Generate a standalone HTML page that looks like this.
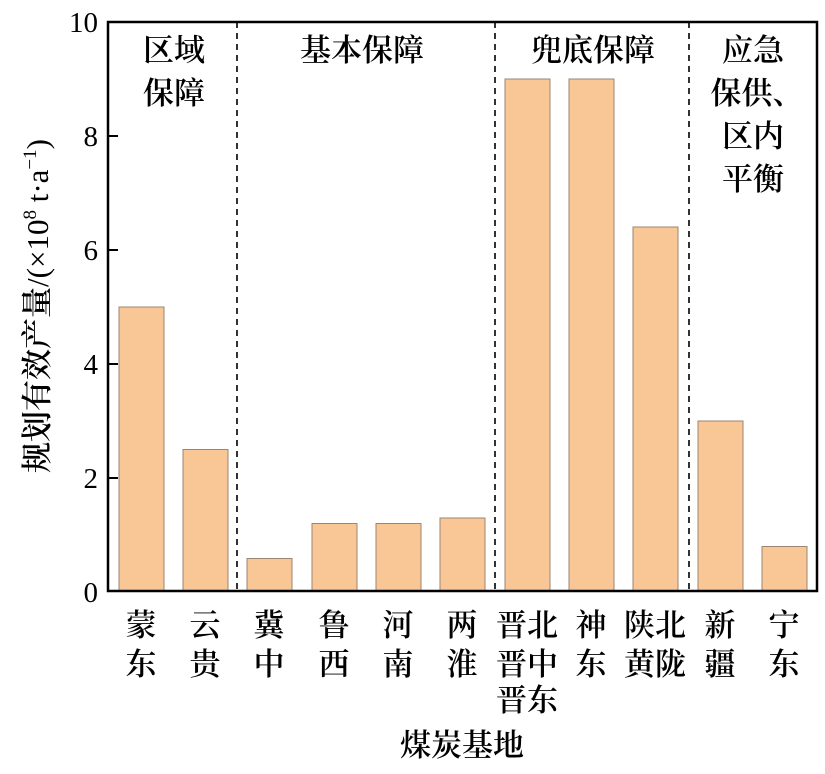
<!DOCTYPE html>
<html><head><meta charset="utf-8"><style>
body{margin:0;background:#fff}
svg text{font-family:"Liberation Serif","Noto Serif CJK SC",serif;fill:#000}
.c{font-weight:600}
.n{font-weight:400}
</style></head><body>
<svg width="825" height="769" viewBox="0 0 825 769" xmlns="http://www.w3.org/2000/svg">
<g fill="#F9C796" stroke="#9a8674" stroke-width="1">
<rect x="119" y="307" width="45" height="284"/>
<rect x="183" y="449.5" width="45" height="141.5"/>
<rect x="247" y="558.5" width="45" height="32.5"/>
<rect x="312" y="523.5" width="45" height="67.5"/>
<rect x="376" y="523.5" width="45" height="67.5"/>
<rect x="440" y="518" width="45" height="73"/>
<rect x="505" y="79" width="45" height="512"/>
<rect x="569" y="79" width="45" height="512"/>
<rect x="633" y="227" width="45" height="364"/>
<rect x="698" y="421" width="45" height="170"/>
<rect x="762" y="546.5" width="45" height="44.5"/>
</g>
<g stroke="#000" stroke-width="1.6" stroke-dasharray="6,5">
<line x1="237" y1="22" x2="237" y2="591"/>
<line x1="495" y1="22" x2="495" y2="591"/>
<line x1="689" y1="22" x2="689" y2="591"/>
</g>
<rect x="108" y="22" width="709" height="569" fill="none" stroke="#000" stroke-width="2.5"/>
<g stroke="#000" stroke-width="2">
<line x1="108" y1="136" x2="118" y2="136"/>
<line x1="108" y1="250" x2="118" y2="250"/>
<line x1="108" y1="364" x2="118" y2="364"/>
<line x1="108" y1="478" x2="118" y2="478"/>
</g>
<g font-size="29" text-anchor="end">
<text x="98" y="32">10</text>
<text x="98" y="146">8</text>
<text x="98" y="260">6</text>
<text x="98" y="374">4</text>
<text x="98" y="488">2</text>
<text x="98" y="602">0</text>
</g>
<text transform="translate(48,306) rotate(-90)" font-size="31" text-anchor="middle"><tspan class="c">规划有效产量</tspan><tspan class="n">/(×10</tspan><tspan class="n" font-size="19" dy="-12">8</tspan><tspan class="n" dy="12"> t·a</tspan><tspan class="n" font-size="19" dy="-12">−1</tspan><tspan class="n" dy="12">)</tspan></text>
<g class="c" font-size="31" text-anchor="middle">
<text x="174" y="61">区域</text><text x="174" y="104">保障</text>
<text x="362" y="61">基本保障</text>
<text x="593" y="61">兜底保障</text>
<text x="753" y="61">应急</text><text x="757" y="104">保供、</text><text x="753" y="147">区内</text><text x="753" y="190">平衡</text>
</g>
<g class="c" font-size="31" text-anchor="middle">
<text x="141" y="636">蒙</text><text x="141" y="675">东</text>
<text x="205" y="636">云</text><text x="205" y="675">贵</text>
<text x="269" y="636">冀</text><text x="269" y="675">中</text>
<text x="334" y="636">鲁</text><text x="334" y="675">西</text>
<text x="398" y="636">河</text><text x="398" y="675">南</text>
<text x="462" y="636">两</text><text x="462" y="675">淮</text>
<text x="527" y="636">晋北</text><text x="527" y="675">晋中</text><text x="527" y="711">晋东</text>
<text x="591" y="636">神</text><text x="591" y="675">东</text>
<text x="655" y="636">陕北</text><text x="655" y="675">黄陇</text>
<text x="720" y="636">新</text><text x="720" y="675">疆</text>
<text x="784" y="636">宁</text><text x="784" y="675">东</text>
<text x="462" y="756">煤炭基地</text>
</g>
</svg>
</body></html>
